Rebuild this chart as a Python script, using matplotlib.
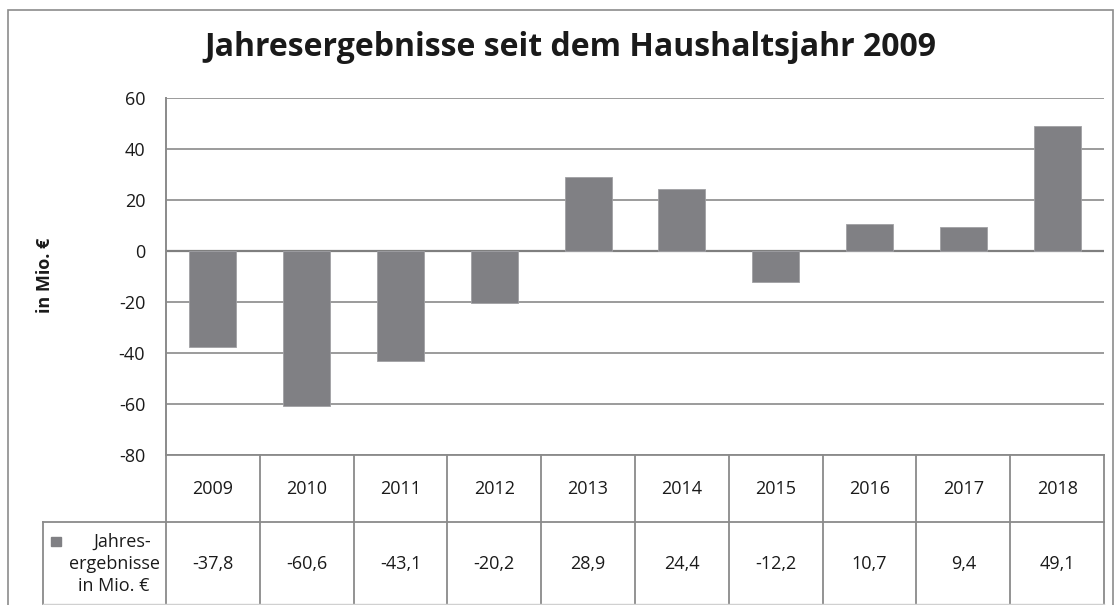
import matplotlib
matplotlib.use("Agg")
import matplotlib.pyplot as plt
from matplotlib.lines import Line2D
from matplotlib.patches import Rectangle
import matplotlib.transforms as mtransforms

years = ["2009", "2010", "2011", "2012", "2013", "2014", "2015", "2016", "2017", "2018"]
values = [-37.8, -60.6, -43.1, -20.2, 28.9, 24.4, -12.2, 10.7, 9.4, 49.1]
value_labels = ["-37,8", "-60,6", "-43,1", "-20,2", "28,9", "24,4", "-12,2", "10,7", "9,4", "49,1"]
yticks = [-80, -60, -40, -20, 0, 20, 40, 60]
title = "Jahresergebnisse seit dem Haushaltsjahr 2009"
ylabel = "in Mio. €"
series_lines = ["Jahres-", "ergebnisse", "in Mio. €"]

W, H = 1116, 605
FONT = ["Open Sans", "DejaVu Sans"]
plt.rcParams["font.family"] = FONT
GRID = "#8a8a8a"
BAR = "#808084"
TXT = "#1a1a1a"
FS = 13

fig = plt.figure(figsize=(W / 100, H / 100), dpi=100)

def fx(x):
    return x / W

def fy(y):
    return 1 - y / H

# outer chart border
fig.add_artist(Rectangle((fx(8), fy(620)), fx(1113) - fx(8), fy(10) - fy(620),
                         transform=fig.transFigure, fill=False, edgecolor="#8c8c8c", lw=1.2))

ax = fig.add_axes([fx(166), fy(455), fx(1104) - fx(166), fy(98) - fy(455)])
n = len(years)
xs = [i + 0.5 for i in range(n)]
ax.bar(xs, values, width=0.5, color=BAR, edgecolor="#a0a0a4", linewidth=0.6, zorder=3)
ax.set_xlim(0, n)
ax.set_ylim(-80, 60)
ax.set_yticks(yticks)
ax.set_yticklabels([str(t) for t in yticks], fontsize=FS, color=TXT)
ax.set_xticks([])
ax.yaxis.grid(True, color=GRID, lw=1.2, zorder=0)
ax.axhline(0, color="#7f7f7f", lw=1.6, zorder=2)
for s in ["top", "right", "bottom"]:
    ax.spines[s].set_visible(False)
ax.spines["left"].set_color(GRID)
ax.spines["left"].set_linewidth(1.4)
ax.tick_params(axis="y", length=0, pad=15)

fig.text(fx(45), fy(275), ylabel, rotation=90, ha="center", va="center",
         fontsize=FS, fontweight="bold", color=TXT)

fig.text(fx(570), fy(48), title, ha="center", va="center", fontsize=23, fontweight="bold", color=TXT)

# data table
trans = mtransforms.blended_transform_factory(ax.transData, fig.transFigure)
row1_top, row1_bot, row2_bot = 455, 522, 604
for i in range(n + 1):
    fig.add_artist(Line2D([i, i], [fy(row1_top), fy(row2_bot)], transform=trans,
                          color=GRID, lw=1.3, clip_on=False))
fig.add_artist(Line2D([0, n], [fy(row1_top), fy(row1_top)], transform=trans,
                      color=GRID, lw=1.3, clip_on=False))
fig.add_artist(Line2D([fx(43), fx(1104)], [fy(row1_bot), fy(row1_bot)], transform=fig.transFigure,
                      color=GRID, lw=1.3))
fig.add_artist(Line2D([fx(43), fx(43)], [fy(row1_bot), fy(row2_bot)], transform=fig.transFigure,
                      color=GRID, lw=1.3))
fig.add_artist(Line2D([fx(43), fx(1104)], [fy(row2_bot), fy(row2_bot)], transform=fig.transFigure,
                      color="#d0d0d0", lw=1.0))

for i, (yr, lab) in enumerate(zip(years, value_labels)):
    ax.text(i + 0.5, fy(489), yr, transform=trans, ha="center", va="center", fontsize=FS, color=TXT)
    ax.text(i + 0.5, fy(564), lab, transform=trans, ha="center", va="center", fontsize=FS, color=TXT)

# legend key + series name
fig.add_artist(Rectangle((fx(51), fy(546)), fx(10), fy(537) - fy(546), transform=fig.transFigure,
                         color=BAR))
for (line, cx, cy) in zip(series_lines, [122, 114, 114], [542, 564, 586]):
    fig.text(fx(cx), fy(cy), line, ha="center", va="center", fontsize=FS, color=TXT)

fig.savefig("out.png", dpi=100)
